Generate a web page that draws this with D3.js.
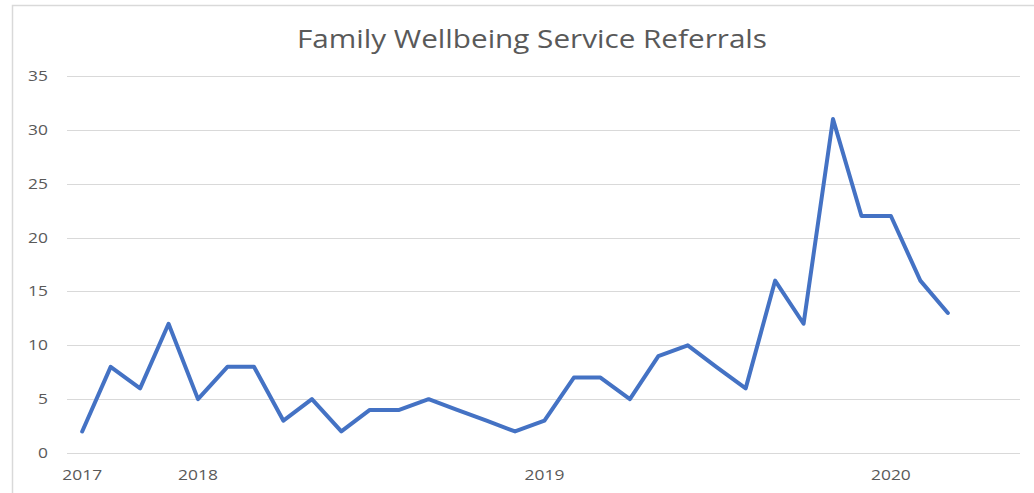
<!DOCTYPE html>
<html>
<head>
<meta charset="utf-8">
<script src="https://cdn.jsdelivr.net/npm/d3@7"></script>
<style>
  body { margin: 0; background: #fff; }
  svg { display: block; font-family: "Open Sans", sans-serif; }
</style>
</head>
<body>
<svg width="1034" height="493"></svg>
<script>
// monthly referrals, Sep 2017 .. Mar 2020
var months = ["2017-09","2017-10","2017-11","2017-12","2018-01","2018-02","2018-03","2018-04",
  "2018-05","2018-06","2018-07","2018-08","2018-09","2018-10","2018-11","2018-12",
  "2019-01","2019-02","2019-03","2019-04","2019-05","2019-06","2019-07","2019-08",
  "2019-09","2019-10","2019-11","2019-12","2020-01","2020-02","2020-03"];
var referrals = [2,8,6,12,5,8,8,3,5,2,4,4,5,4,3,2,3,7,7,5,9,10,8,6,16,12,31,22,22,16,13];
var yTicks = [0,5,10,15,20,25,30,35];
var xTickDates = ["2017-09","2018-01","2019-01","2020-01"];
var xTickLabels = ["2017","2018","2019","2020"];

var parseMonth = d3.timeParse("%Y-%m");
var data = months.map(function(m, i) { return { date: parseMonth(m), value: referrals[i] }; });

var svg = d3.select("svg"),
    width = +svg.attr("width"),
    height = +svg.attr("height");

var plot = { left: 67, right: 1020, top: 76, bottom: 453 };
var textColor = "#595959";

var x = d3.scaleTime()
    .domain([new Date(2017, 7, 16), new Date(2020, 4, 16)])
    .range([plot.left, plot.right]);
var y = d3.scaleLinear()
    .domain([0, 35])
    .range([plot.bottom, plot.top]);

// chart frame (left + top edge visible)
svg.append("path")
    .attr("d", "M12.5," + height + "V5.5H" + width)
    .attr("fill", "none")
    .attr("stroke", "#d9d9d9")
    .attr("stroke-width", 1.5);

// title
svg.append("text")
    .attr("x", 532)
    .attr("y", 48)
    .attr("text-anchor", "middle")
    .attr("textLength", 470)
    .attr("lengthAdjust", "spacingAndGlyphs")
    .attr("font-size", 25)
    .attr("fill", textColor)
    .text("Family Wellbeing Service Referrals");

// gridlines
svg.append("g")
  .selectAll("line")
  .data(yTicks)
  .enter().append("line")
    .attr("x1", plot.left)
    .attr("x2", plot.right)
    .attr("y1", function(d) { return Math.round(y(d)) + 0.5; })
    .attr("y2", function(d) { return Math.round(y(d)) + 0.5; })
    .attr("stroke", "#d9d9d9")
    .attr("stroke-width", 1);

// y labels
svg.append("g")
  .selectAll("text")
  .data(yTicks)
  .enter().append("text")
    .attr("transform", function(d) { return "translate(48," + (y(d) + 5) + ") scale(1.2,1)"; })
    .attr("text-anchor", "end")
    .attr("font-size", 14.5)
    .attr("fill", textColor)
    .text(function(d) { return d; });

// x labels
svg.append("g")
  .selectAll("text")
  .data(xTickDates)
  .enter().append("text")
    .attr("transform", function(d) { return "translate(" + x(parseMonth(d)) + ",480) scale(1.2,1)"; })
    .attr("text-anchor", "middle")
    .attr("font-size", 14.5)
    .attr("fill", textColor)
    .text(function(d, i) { return xTickLabels[i]; });

// series line
var line = d3.line()
    .x(function(d) { return x(d.date); })
    .y(function(d) { return y(d.value); });

svg.append("path")
    .datum(data)
    .attr("d", line)
    .attr("fill", "none")
    .attr("stroke", "#4472c4")
    .attr("stroke-width", 4)
    .attr("stroke-linejoin", "round")
    .attr("stroke-linecap", "round");
</script>
</body>
</html>
